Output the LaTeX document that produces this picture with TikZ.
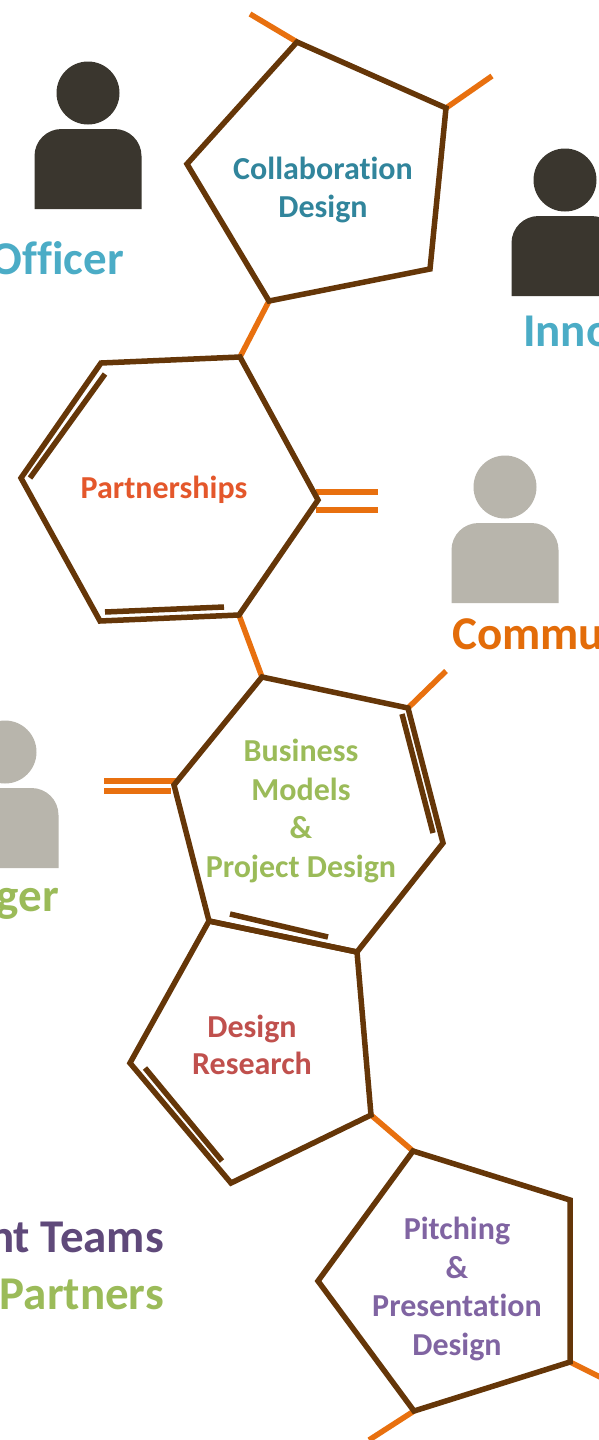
\documentclass[tikz,border=0pt]{standalone}
\usepackage{fontspec}
\setmainfont{Carlito}[BoldFont={Carlito Bold},Ligatures={NoCommon}]
\definecolor{ringc}{HTML}{653608}
\definecolor{bondc}{HTML}{E8700F}
\definecolor{darkp}{HTML}{3A362E}
\definecolor{lightp}{HTML}{B8B5AC}
\definecolor{tealt}{HTML}{31859C}
\definecolor{bluet}{HTML}{4BACC6}
\definecolor{oranget}{HTML}{E36C09}
\definecolor{redt}{HTML}{E4572B}
\definecolor{greent}{HTML}{9BBB59}
\definecolor{rost}{HTML}{C0504D}
\definecolor{purpt}{HTML}{8064A2}
\definecolor{dpurpt}{HTML}{5F497A}
\tikzset{
  ringline/.style={draw=ringc,line width=5.5pt,line join=miter},
  bondline/.style={draw=bondc,line width=5.5pt},
  lbl/.style={font=\bfseries\fontsize{32}{38.5}\selectfont,align=center,inner sep=0pt},
  lbltwo/.style={font=\bfseries\fontsize{32}{37.5}\selectfont,align=center,inner sep=0pt},
  biglbl/.style={font=\bfseries\fontsize{47}{50}\selectfont,inner sep=0pt},
}
\newcommand{\person}[3]{%
  \fill[#3] (#1,#2) circle (31.5);
  \fill[#3] (#1-53.5,#2+116) -- (#1-53.5,#2+63) arc[start angle=180,end angle=270,radius=27] -- (#1+26.5,#2+36) arc[start angle=270,end angle=360,radius=27] -- (#1+53.5,#2+116) -- cycle;
}
\begin{document}
\begin{tikzpicture}[x=1pt,y=-1pt]
\useasboundingbox (0,0) rectangle (599,1440);
\clip (0,0) rectangle (599,1440);
\fill[white] (0,0) rectangle (599,1440);
% people
\person{88}{93}{darkp}
\person{565}{180}{darkp}
\person{505}{487}{lightp}
\person{5}{752}{lightp}
% big labels
\node[biglbl,text=bluet,anchor=base east] (officer) at (124,274) {Officer};
\node[biglbl,text=bluet,anchor=base west] (inno) at (523,346) {Inno};
\node[biglbl,text=oranget,anchor=base west] (commu) at (452,649) {Commu};
\node[biglbl,text=greent,anchor=base east] (ger) at (59,911) {ger};
\node[biglbl,text=dpurpt,anchor=base east] (teams) at (164,1252) {nt Teams};
\node[biglbl,text=greent,anchor=base east] (partners) at (164,1309) {Partners};
% bonds
\draw[bondline] (297,42) -- (250,14);
\draw[bondline] (446,108) -- (492,76);
\draw[bondline] (269,301) -- (240,357);
\draw[bondline] (316,492) -- (378,492);
\draw[bondline] (316,510) -- (378,510);
\draw[bondline] (239,615) -- (262,677);
\draw[bondline] (408,708) -- (446,671);
\draw[bondline] (104,781) -- (176,781);
\draw[bondline] (104,791) -- (171,791);
\draw[bondline] (371,1115) -- (413,1151);
\draw[bondline] (570,1362) -- (610,1382);
\draw[bondline] (414,1411) -- (369,1440);
% rings
\draw[ringline] (297,42) -- (446,108) -- (430,269) -- (269,301) -- (187,164) -- cycle;
\draw[ringline] (101,363) -- (240,357) -- (318,500) -- (239,615) -- (100,621) -- (21,478) -- cycle;
\draw[ringline] (30,478) -- (105,374);
\draw[ringline] (105,612) -- (224,607);
\draw[ringline] (262,677) -- (408,708) -- (443,843) -- (357,952) -- (209,921) -- (174,785) -- cycle;
\draw[ringline] (402,714) -- (433,833);
\draw[ringline] (230,914) -- (328,937);
\draw[ringline] (209,921) -- (357,952) -- (371,1115) -- (231,1183) -- (130,1063) -- cycle;
\draw[ringline] (145,1068) -- (222,1161);
\draw[ringline] (413,1151) -- (570,1200) -- (570,1362) -- (414,1411) -- (318,1281) -- cycle;
% ring labels
\node[lbl,text=tealt] (collab) at (323,190) {Collaboration\\Design};
\node[lbl,text=redt] (partner) at (164,490) {Partnerships};
\node[lbl,text=greent] (biz) at (301,811) {Business\\Models\\\&\\Project Design};
\node[lbltwo,text=rost] (research) at (252,1045) {Design\\Research};
\node[lbl,text=purpt] (pitch) at (457,1289) {Pitching\\\&\\Presentation\\Design};
\end{tikzpicture}
\end{document}
